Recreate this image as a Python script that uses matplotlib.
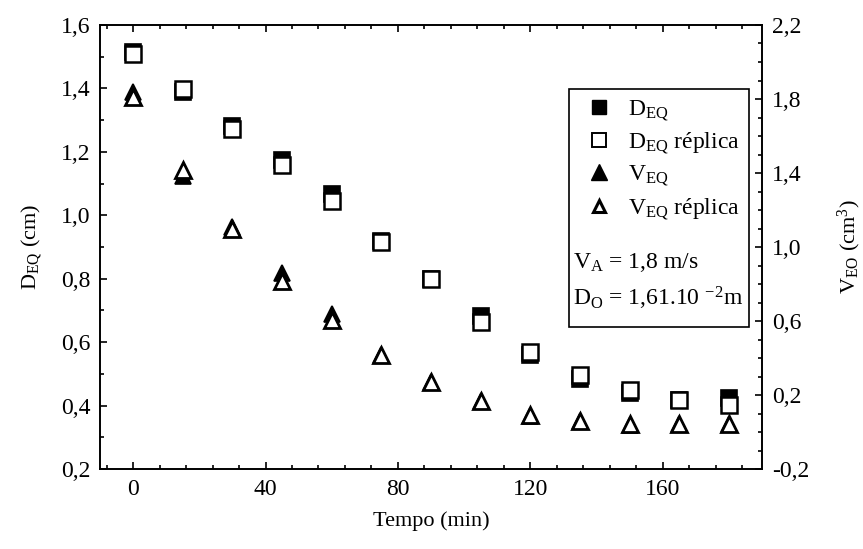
import matplotlib
matplotlib.use("Agg")
import matplotlib.pyplot as plt
from matplotlib.lines import Line2D
from matplotlib.patches import Rectangle
from matplotlib.ticker import MultipleLocator, FuncFormatter

plt.rcParams.update({
    "font.family": "Liberation Serif",
    "mathtext.fontset": "custom",
    "mathtext.rm": "Liberation Serif",
    "mathtext.it": "Liberation Serif",
    "font.size": 16,
})

# Dados
tempo = [0, 15, 30, 45, 60, 75, 90, 105, 120, 135, 150, 165, 180]
d_eq = [1.515, 1.389, 1.282, 1.175, 1.068, 0.92, 0.80, 0.682, 0.56, 0.484, 0.44, 0.418, 0.424]
d_eq_rep = [1.509, 1.398, 1.272, 1.159, 1.045, 0.915, 0.80, 0.664, 0.568, 0.496, 0.450, 0.418, 0.402]
v_eq = [1.84, 1.384, 1.11, 0.86, 0.638, 0.416, 0.27, 0.168, 0.088, 0.06, 0.040, 0.043, 0.043]
v_eq_rep = [1.81, 1.416, 1.10, 0.816, 0.605, 0.416, 0.27, 0.168, 0.092, 0.06, 0.045, 0.043, 0.043]

x_ticks = [0, 40, 80, 120, 160]
d_ticks = [0.2, 0.4, 0.6, 0.8, 1.0, 1.2, 1.4, 1.6]
v_ticks = [-0.2, 0.2, 0.6, 1.0, 1.4, 1.8, 2.2]

comma = FuncFormatter(lambda v, p: f"{v:.1f}".replace(".", ",").replace("\u2212", "-"))

fig = plt.figure(figsize=(8.63, 5.49), dpi=100)
ax = fig.add_axes([100 / 863, 1 - 469 / 549, 662 / 863, 444 / 549])
ax2 = ax.twinx()

ms_sq, ms_tr = 11.5, 11
ax.plot(tempo, d_eq, ls="none", marker="s", ms=ms_sq, mfc="black", mec="black", mew=1.2, zorder=3)
ax.plot(tempo, d_eq_rep, ls="none", marker="s", ms=ms_sq, mfc="white", mec="black", mew=1.8, zorder=4)
ax2.plot(tempo, v_eq, ls="none", marker="^", ms=ms_tr, mfc="black", mec="black", mew=1.2, zorder=3)
ax2.plot(tempo, v_eq_rep, ls="none", marker="^", ms=ms_tr, mfc="white", mec="black", mew=2.0, zorder=4)

ax.set_xlim(-10, 190)
ax.set_ylim(0.2, 1.6)
ax2.set_ylim(-0.2, 2.2)

ax.set_xticks(x_ticks)
ax.xaxis.set_minor_locator(MultipleLocator(8))
ax.set_yticks(d_ticks)
ax.yaxis.set_minor_locator(MultipleLocator(0.1))
ax2.set_yticks(v_ticks)
ax2.yaxis.set_minor_locator(MultipleLocator(0.1))
ax.yaxis.set_major_formatter(comma)
ax2.yaxis.set_major_formatter(comma)

for a in (ax, ax2):
    a.tick_params(which="both", direction="in", labelsize=17, pad=7)
    a.tick_params(which="major", length=5, width=1.2)
    a.tick_params(which="minor", length=3, width=1.2)
    for s in a.spines.values():
        s.set_linewidth(1.2)
ax.tick_params(which="both", top=True)

ax.set_xlabel("Tempo (min)", fontsize=16, labelpad=8)
ax.set_ylabel(r"D$_{\mathrm{EQ}}$ (cm)", fontsize=16, labelpad=12)
ax2.set_ylabel(r"V$_{\mathrm{EO}}$ (cm$^{3}$)", fontsize=16, labelpad=19)

# caixa de legenda
ax.add_patch(Rectangle((0.708, 0.320), 0.2725, 0.536, transform=ax.transAxes,
                       fill=True, facecolor="white", edgecolor="black", lw=1.2, zorder=5))
handles = [
    Line2D([], [], ls="none", marker="s", ms=10.5, mfc="black", mec="black"),
    Line2D([], [], ls="none", marker="s", ms=10, mfc="white", mec="black", mew=1.4),
    Line2D([], [], ls="none", marker="^", ms=12, mfc="black", mec="black"),
    Line2D([], [], ls="none", marker="^", ms=9, mfc="white", mec="black", mew=2.2),
]
labels = [r"D$_{\mathrm{EQ}}$", r"D$_{\mathrm{EQ}}$ réplica",
          r"V$_{\mathrm{EQ}}$", r"V$_{\mathrm{EQ}}$ réplica"]
leg = ax2.legend(handles, labels, loc="upper left", bbox_to_anchor=(0.733, 0.835),
                 frameon=False, fontsize=17, handlelength=1.2, handletextpad=0.6,
                 labelspacing=0.33, borderaxespad=0, borderpad=0)
leg.set_zorder(6)
ax2.text(0.714, 0.466, r"V$_{\mathrm{A}}$ = 1,8 m/s", transform=ax.transAxes,
         fontsize=17, va="center", ha="left", zorder=6)
ax2.text(0.714, 0.385, r"D$_{\mathrm{O}}$ = 1,61.10 $^{-2}$m", transform=ax.transAxes,
         fontsize=17, va="center", ha="left", zorder=6)

fig.savefig("out.png", dpi=100)
